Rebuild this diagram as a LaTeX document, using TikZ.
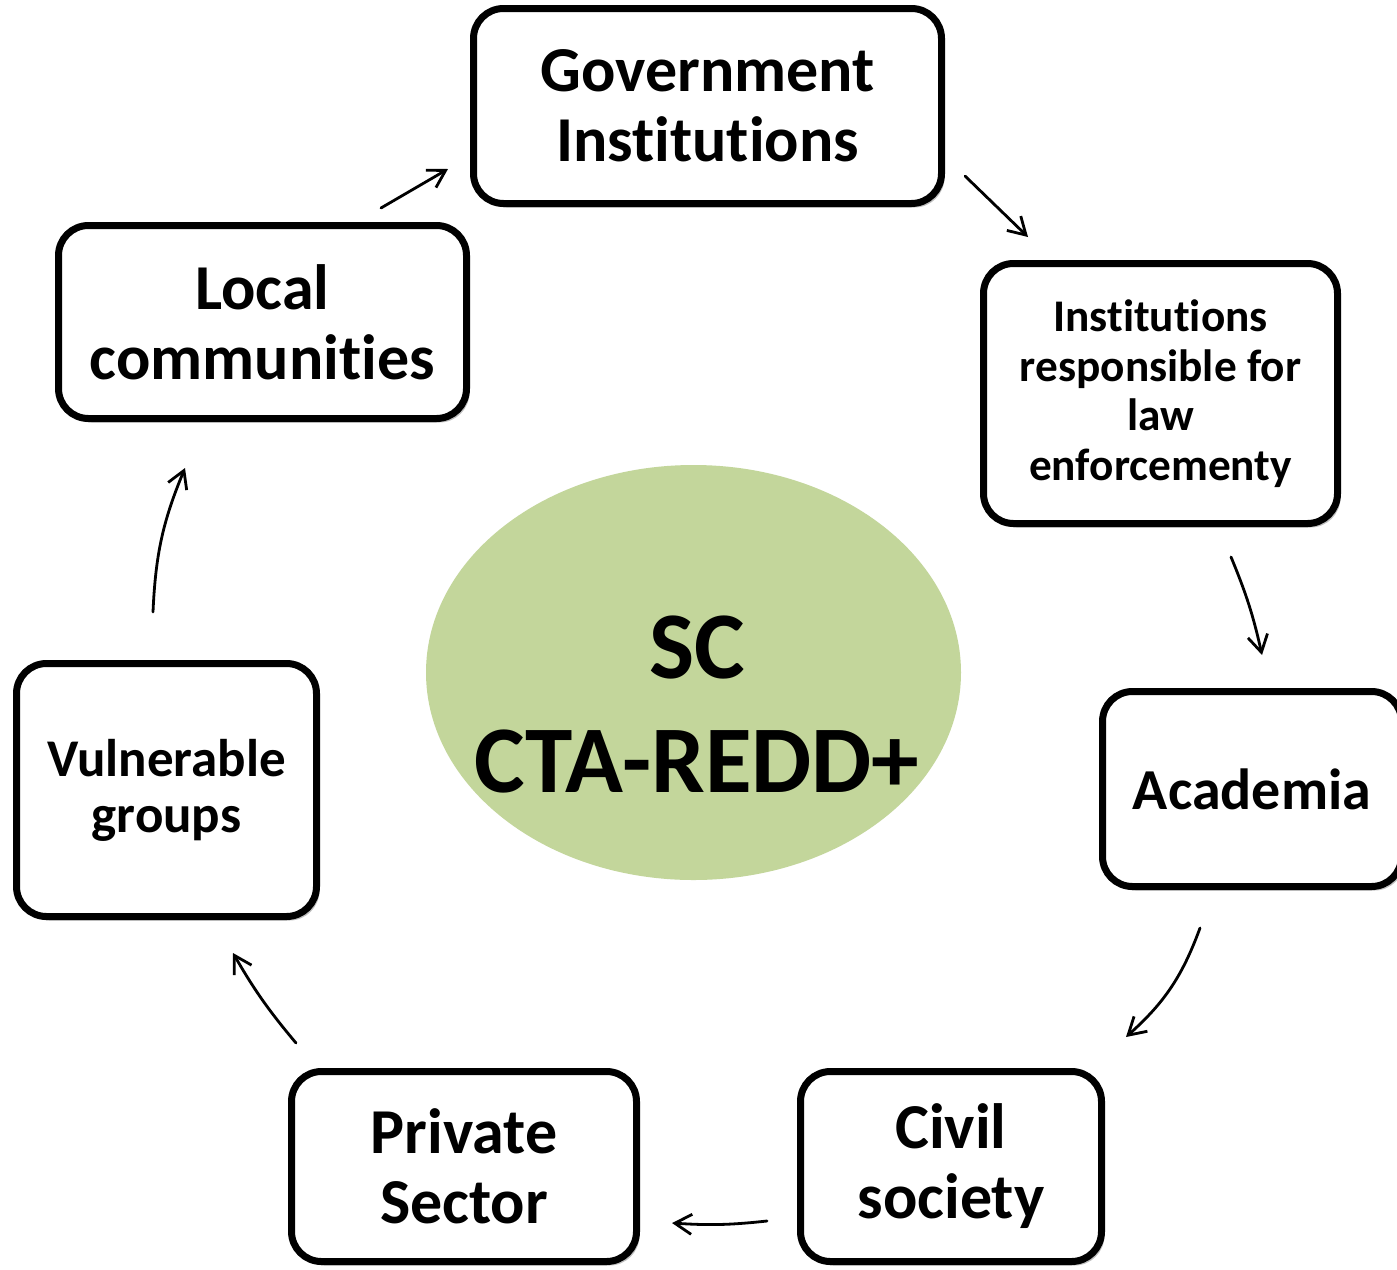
\documentclass[tikz,border=0pt]{standalone}
\usepackage{fontspec}
\setmainfont{Carlito}[Ligatures=NoCommon]
\usetikzlibrary{shapes.geometric,shadows,arrows.meta}
\definecolor{coregreen}{HTML}{C3D69B}
\tikzset{
  actor/.style={draw=black, line width=7pt, rounded corners=30pt, fill=white,
    align=center, inner sep=0pt, font=\bfseries,
    drop shadow={shadow xshift=3pt, shadow yshift=-4pt, opacity=0.25, fill=black}},
  flow/.style={line width=2.8pt, -{Straight Barb[length=17pt,width=20pt,line width=2.8pt]}, line cap=round},
}
\begin{document}
\begin{tikzpicture}[x=1pt,y=-1pt]
\useasboundingbox (0,0) rectangle (1397,1269);
\fill[white] (0,0) rectangle (1397,1269);

\node[ellipse, fill=coregreen, minimum width=535pt, minimum height=415pt] (core) at (693.5,672.5) {};
\node[align=center, font=\bfseries\fontsize{95.5}{114}\selectfont, inner sep=0pt] (coretext) at (697,705) {SC\\CTA-REDD+};

\node[actor, minimum width=468pt, minimum height=195pt, font=\bfseries\fontsize{64}{70}\selectfont] (gov) at (707.5,106) {Government\\Institutions};
\node[actor, minimum width=354pt, minimum height=260pt, font=\bfseries\fontsize{45.3}{49.5}\selectfont] (law) at (1160.5,393.5) {Institutions\\responsible for\\law\\enforcementy};
\node[actor, minimum width=299pt, minimum height=195pt, font=\bfseries\fontsize{58}{68}\selectfont] (acad) at (1252,789) {Academia};
\node[actor, minimum width=301pt, minimum height=190pt, font=\bfseries\fontsize{64}{70}\selectfont] (civil) at (951,1166.5) {Civil\\society};
\node[actor, minimum width=345pt, minimum height=190pt, font=\bfseries\fontsize{64}{70}\selectfont] (priv) at (464,1166.5) {Private\\Sector};
\node[actor, minimum width=300pt, minimum height=253pt, font=\bfseries\fontsize{53}{56}\selectfont] (vuln) at (166.5,790) {Vulnerable\\groups};
\node[actor, minimum width=408pt, minimum height=193pt, font=\bfseries\fontsize{64}{70}\selectfont] (local) at (262.5,322) {Local\\communities};

\draw[flow] ([shift={(118.5,-114)}]local.center) -- ([shift={(-259.5,63)}]gov.center);
\draw[flow] ([shift={(257.5,70)}]gov.center) -- ([shift={(-132.5,-156.5)}]law.center);
\draw[flow] ([shift={(70.5,163.5)}]law.center) to[bend left=5] ([shift={(10,-134)}]acad.center);
\draw[flow] ([shift={(-52,139)}]acad.center) to[bend left=14] ([shift={(175,-129.5)}]civil.center);
\draw[flow] ([shift={(-184,54.5)}]civil.center) to[bend left=5] ([shift={(208,56.5)}]priv.center);
\draw[flow] ([shift={(-168,-123.5)}]priv.center) to[bend left=5] ([shift={(66.5,163)}]vuln.center);
\draw[flow] ([shift={(-13.5,-178)}]vuln.center) to[bend left=10] ([shift={(-77.5,146)}]local.center);
\end{tikzpicture}
\end{document}
